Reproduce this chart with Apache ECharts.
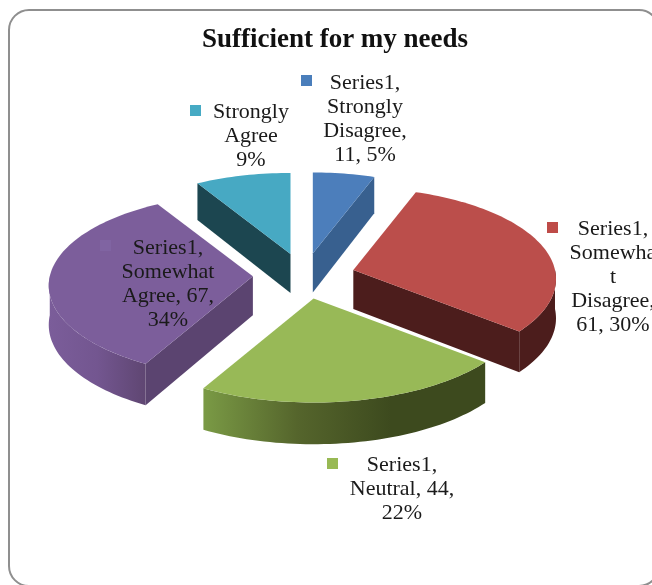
<!DOCTYPE html>
<html>
<head>
<meta charset="utf-8">
<style>html,body{margin:0;padding:0;background:#fff}#chart{width:652px;height:585px}</style>
<script src="https://cdn.jsdelivr.net/npm/echarts@6/dist/echarts.min.js"></script>
</head>
<body>
<div id="chart"></div>
<script>
// Survey responses, clockwise from twelve o'clock
var categories = ['Strongly Disagree', 'Somewhat Disagree', 'Neutral', 'Somewhat Agree', 'Strongly Agree'];
var values = [11, 61, 44, 67, 17];
var labelTexts = [
  'Series1,\nStrongly\nDisagree,\n11, 5%',
  'Series1,\nSomewha\nt\nDisagree,\n61, 30%',
  'Series1,\nNeutral, 44,\n22%',
  'Series1,\nSomewhat\nAgree, 67,\n34%',
  'Strongly\nAgree\n9%'
];
var topColors = ['#4c7ebb', '#bb4e4b', '#98b957', '#7c5e9b', '#47a9c3'];
var wallColors = ['#38608f', '#4c1d1c', '#3d4a1e', '#5b4470', '#1c4650'];
var rimStops = [
  ['#38608f', '#38608f'],
  ['#4c1d1c', '#4c1d1c'],
  ['#7a9a45', '#55652c', '#3d4a1e', '#3d4a1e'],
  ['#7b5d9a', '#735690', '#5f4672'],
  ['#1c4650', '#1c4650']
];
// Label layout: centre of each text block and its colour key
var labelCentres = [[365, 119], [613, 277], [402, 489], [168, 284], [251, 136]];
var keyCorners = [[301, 75], [547, 222], [327, 458], [100, 240], [190, 105]];
var keyColors = ['#4a7ebb', '#be4b48', '#98b954', '#8064a2', '#46aac4'];

// Projection of the tilted, exploded disc
var CX = 304, CY = 276, RX = 203, RY = 91, EXPLODE = 0.252, DEPTH = 39, PERSP = 0.10;
var total = values.reduce(function (a, b) { return a + b; }, 0);
var RAD = Math.PI / 180;

// Point on a slice's rim; nearer parts of the disc are drawn larger
function rimPoint(apex, pull, deg, drop) {
  var u = Math.sin(deg * RAD), v = Math.cos(deg * RAD);
  var s = 1 / (1 + PERSP * (v + pull));
  return [
    apex[0] + RX * u * s,
    apex[1] - RY * v * s + (drop ? DEPTH * (1 - 0.07 * v) : 0)
  ];
}
function arcPoints(apex, pull, a0, a1, drop) {
  var pts = [], n = Math.max(2, Math.ceil(Math.abs(a1 - a0) / 1.5));
  for (var i = 0; i <= n; i++) pts.push(rimPoint(apex, pull, a0 + (a1 - a0) * i / n, drop));
  return pts;
}

function renderSlice(params, api) {
  var idx = params.dataIndex;
  var before = 0;
  for (var i = 0; i < idx; i++) before += values[i];
  var value = api.value(0);
  var a0 = before / total * 360, a1 = (before + value) / total * 360, mid = (a0 + a1) / 2;
  var pull = EXPLODE * Math.cos(mid * RAD);
  var apex = [CX + RX * EXPLODE * Math.sin(mid * RAD), CY - RY * pull];
  var apexLow = [apex[0], apex[1] + DEPTH];
  var children = [];

  // Side walls facing the viewer
  [a0, a1].forEach(function (edge, k) {
    var s = Math.sin(edge * RAD);
    if ((k === 0 && s < -1e-6) || (k === 1 && s > 1e-6)) {
      children.push({
        type: 'polygon',
        shape: { points: [apex, rimPoint(apex, pull, edge, false), rimPoint(apex, pull, edge, true), apexLow] },
        style: { fill: wallColors[idx] }
      });
    }
  });

  // Front rim, only the part between three and nine o'clock
  var r0 = Math.max(a0, 90), r1 = Math.min(a1, 270);
  if (r1 > r0) {
    var stops = rimStops[idx];
    children.push({
      type: 'polygon',
      shape: { points: arcPoints(apex, pull, r0, r1, false).concat(arcPoints(apex, pull, r1, r0, true)) },
      style: {
        fill: new echarts.graphic.LinearGradient(0, 0, 1, 0, stops.map(function (c, j) {
          return { offset: j / (stops.length - 1), color: c };
        }))
      }
    });
  }

  // Top face
  children.push({
    type: 'polygon',
    shape: { points: [apex].concat(arcPoints(apex, pull, a0, a1, false)) },
    style: { fill: topColors[idx] }
  });
  return { type: 'group', children: children };
}

var TEXT_FONT = '22px "Liberation Serif", "Times New Roman", serif';
var graphics = [{
  type: 'rect', z: 1, silent: true,
  shape: { x: 9, y: 10, width: 650, height: 576, r: 20 },
  style: { fill: 'none', stroke: '#8f8f8f', lineWidth: 2 }
}, {
  type: 'text', z: 100, x: 335, y: 40,
  style: {
    text: 'Sufficient for my needs', align: 'center', verticalAlign: 'middle', fill: '#111',
    font: 'bold 27px "Liberation Serif", "Times New Roman", serif'
  }
}];
labelTexts.forEach(function (t, i) {
  graphics.push({
    type: 'text', z: 100, x: labelCentres[i][0], y: labelCentres[i][1],
    style: { text: t, align: 'center', verticalAlign: 'middle', lineHeight: 24, fill: '#1a1a1a', font: TEXT_FONT }
  });
  graphics.push({
    type: 'rect', z: 100, x: keyCorners[i][0], y: keyCorners[i][1],
    shape: { width: 11, height: 11 },
    style: { fill: keyColors[i] }
  });
});

var chart = echarts.init(document.getElementById('chart'), null, { renderer: 'canvas' });
chart.setOption({
  animation: false,
  backgroundColor: '#fff',
  graphic: { elements: graphics },
  series: [{
    type: 'custom',
    coordinateSystem: 'none',
    renderItem: renderSlice,
    data: values.map(function (v, i) { return { name: categories[i], value: [v] }; })
  }]
});
</script>
</body>
</html>
